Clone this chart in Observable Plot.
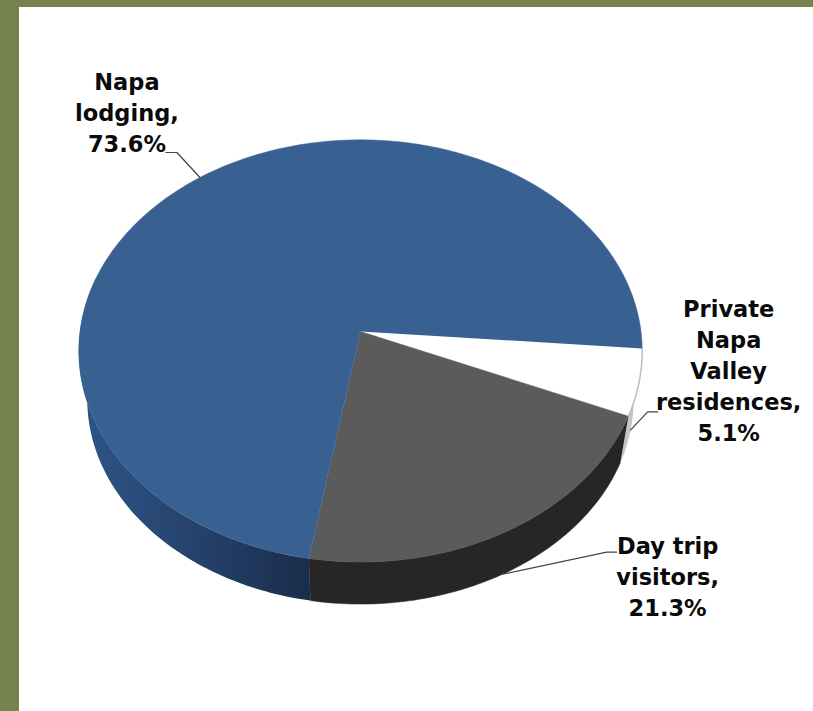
<!DOCTYPE html>
<html>
<head>
<meta charset="utf-8">
<script src="https://cdn.jsdelivr.net/npm/d3@7"></script>
<script src="https://cdn.jsdelivr.net/npm/@observablehq/plot@0.6"></script>
<style>
html,body{margin:0;padding:0;background:#fff;overflow:hidden;}
#frame{position:fixed;left:0;top:0;width:813px;height:711px;box-sizing:border-box;border-left:19px solid #77834f;border-top:7px solid #77834f;pointer-events:none;}
svg{display:block;}
</style>
</head>
<body>
<div id="chart"></div>
<div id="frame"></div>
<script>
// Data, clockwise from the slice that starts at the right-hand edge
const names = ["Private\nNapa\nValley\nresidences,", "Day trip\nvisitors,", "Napa\nlodging,"];
const values = [5.1, 21.3, 73.6];

// Pie geometry
const startDeg = 4.6, A = 280.5, B = 209.3, K = 0.092;
const shrink = 0.97, drop = 49;
const top3d = deg => {
  const t = deg * Math.PI / 180, s = Math.sin(t), c = Math.cos(t), w = 1 - K * s;
  return {x: A * c / w, y: B * s / w};
};
const low3d = deg => {
  const p = top3d(deg);
  return {x: p.x * shrink, y: p.y * shrink + drop};
};
const arc = (f, a, b) => {
  const n = Math.ceil(Math.abs(b - a));
  return d3.range(n + 1).map(i => f(a + (b - a) * i / n));
};

let acc = startDeg;
const slices = values.map((v, i) => {
  const a = acc, b = acc + v * 3.6;
  acc = b;
  return {name: names[i], value: v, a, b, mid: (a + b) / 2};
});
const [white, grey, blue] = slices;

const wedge = s => [{x: 0, y: 0}, ...arc(top3d, s.a, s.b)];
const side = (a, b) => [...arc(top3d, a, b), ...arc(low3d, b, a)];
const topColors = ["#ffffff", "#5b5b5b", "#386192"];

// Leader lines and labels: offsets from the slice anchor, in pixels
const anchors = [low3d(white.mid), low3d(grey.mid), top3d(blue.mid)];
const elbows = [[17, -18, 27, -18], [104, -22, 114, -22], [-23, -25, -34, -25]];
const labelOffsets = [[98, -61], [165, 0.5], [-73, -66]];
const leaders = anchors.map((p, i) => {
  const e = elbows[i];
  return [p, {x: p.x + e[0], y: p.y + e[1]}, {x: p.x + e[2], y: p.y + e[3]}];
});

const chart = Plot.plot({
  width: 813, height: 711,
  margin: 0,
  axis: null,
  x: {domain: [-360, 453], range: [0, 813]},
  y: {domain: [-331, 380], range: [0, 711]},
  marks: [
    () => {
      const ns = "http://www.w3.org/2000/svg";
      const g = document.createElementNS(ns, "defs");
      g.innerHTML = `<linearGradient id="blueSide" x1="0" x2="1" y1="0" y2="0">
        <stop offset="0" stop-color="#2e5587"/><stop offset="0.5" stop-color="#25426c"/><stop offset="1" stop-color="#1a2d4b"/>
      </linearGradient>`;
      return g;
    },
    Plot.line(side(white.a, white.b), {x: "x", y: "y", fill: "#c4c4c4", stroke: "none"}),
    Plot.line(side(grey.a, grey.b), {x: "x", y: "y", fill: "#262626", stroke: "#262626", strokeWidth: 0.5}),
    Plot.line(side(blue.a, 195), {x: "x", y: "y", fill: "url(#blueSide)", stroke: "none"}),
    ...slices.map((s, i) => Plot.line(wedge(s), {x: "x", y: "y", fill: topColors[i], stroke: topColors[i], strokeWidth: 0.5})),
    Plot.line(arc(top3d, white.a, white.b), {x: "x", y: "y", stroke: "#bdbdbd", strokeWidth: 1.5}),
    ...leaders.map(l => Plot.line(l, {x: "x", y: "y", stroke: "#444", strokeWidth: 1.2})),
    ...slices.map((s, i) => Plot.text([s], {
      x: () => anchors[i].x, y: () => anchors[i].y,
      text: d => `${d.name}\n${d.value.toFixed(1)}%`,
      dx: labelOffsets[i][0], dy: labelOffsets[i][1],
      textAnchor: "middle", lineAnchor: "middle", lineHeight: 1.38,
      fontFamily: "DejaVu Sans", fontWeight: "bold", fontSize: 22.5, fill: "#0a0a0a"
    }))
  ]
});
document.getElementById("chart").appendChild(chart);
</script>
</body>
</html>
